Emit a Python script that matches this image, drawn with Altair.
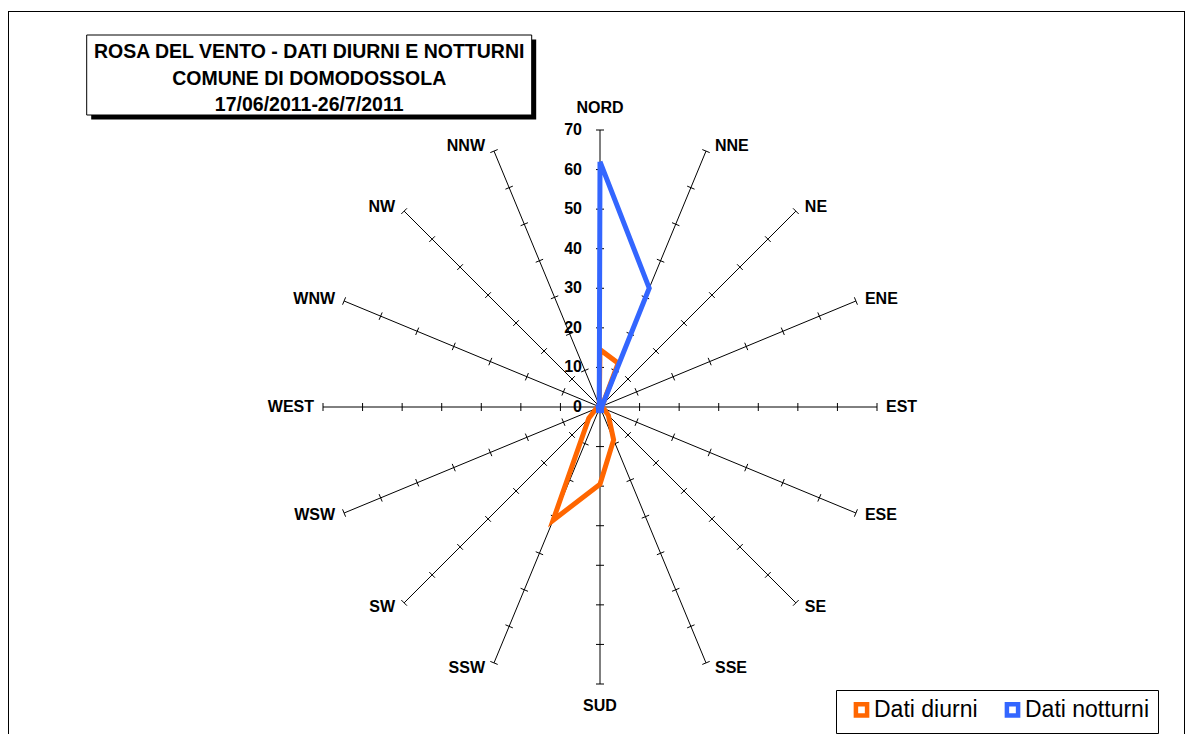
import math
import altair as alt
import pandas as pd

# ---------------- data ----------------
directions = ["NORD", "NNE", "NE", "ENE", "EST", "ESE", "SE", "SSE",
              "SUD", "SSW", "SW", "WSW", "WEST", "WNW", "NW", "NNW"]
dati_diurni = [14.5, 12, 1, 0.5, 0.5, 1, 3, 9, 19.5, 31, 4, 1, 0.5, 0.5, 0.5, 0.5]
dati_notturni = [62, 32.5, 1, 0.5, 0.5, 0.5, 0.5, 1, 1, 1, 0.5, 0.5, 0.5, 0.5, 0.5, 0.5]
axis_ticks = [0, 10, 20, 30, 40, 50, 60, 70]
series_names = ["Dati diurni", "Dati notturni"]
series_colors = ["#FF6600", "#3366FF"]
title_lines = ["ROSA DEL VENTO - DATI DIURNI E NOTTURNI",
               "COMUNE DI DOMODOSSOLA",
               "17/06/2011-26/7/2011"]

# ---------------- layout ----------------
RMAX = 70
W, H = 1177, 726
CX, CY = 592, 399          # centre of the rose in plot pixels
PX = 277 / 70              # pixels per unit
FONT = "Liberation Sans"
TICK_HALF = 4 / PX

xs = alt.Scale(domain=[-CX / PX, (W - CX) / PX], nice=False, zero=False)
ys = alt.Scale(domain=[-(H - CY) / PX, CY / PX], nice=False, zero=False)


def ang(i):
    return math.radians(i * 360 / len(directions))


# spokes
spokes = pd.DataFrame({
    "dir": directions,
    "x": 0.0, "y": 0.0,
    "x2": [RMAX * math.sin(ang(i)) for i in range(len(directions))],
    "y2": [RMAX * math.cos(ang(i)) for i in range(len(directions))],
})

# tick marks
rows = []
for i, d in enumerate(directions):
    a = ang(i)
    s, c = math.sin(a), math.cos(a)
    for r in axis_ticks[1:]:
        rows.append({"x": r * s - TICK_HALF * c, "y": r * c + TICK_HALF * s,
                     "x2": r * s + TICK_HALF * c, "y2": r * c - TICK_HALF * s})
ticks = pd.DataFrame(rows)

# series polygons (closed)
rows = []
for name, vals in zip(series_names, [dati_diurni, dati_notturni]):
    for j in range(len(directions) + 1):
        i = j % len(directions)
        a = ang(i)
        rows.append({"series": name, "order": j,
                     "x": vals[i] * math.sin(a), "y": vals[i] * math.cos(a)})
series = pd.DataFrame(rows)

# direction labels
rows = []
for i, d in enumerate(directions):
    a = ang(i)
    s, c = math.sin(a), math.cos(a)
    if abs(s) < 0.01:
        side = "center"
        lx = 0.0
        ly = RMAX * c + (22 / PX) * (1 if c > 0 else -1)
    else:
        side = "left" if s > 0 else "right"
        lx = RMAX * s + (9 / PX) * (1 if s > 0 else -1)
        ly = RMAX * c + (6 * c) / PX
    rows.append({"dir": d, "side": side, "x": lx, "y": ly})
labels = pd.DataFrame(rows)

nums = pd.DataFrame({"v": axis_ticks, "x": 0.0})
one = pd.DataFrame({"k": [0]})

X = lambda f="x": alt.X(f"{f}:Q", scale=xs, axis=None)
Y = lambda f="y": alt.Y(f"{f}:Q", scale=ys, axis=None)

# ---------------- layers ----------------
frame_left = alt.Chart(one).mark_rule(color="black", strokeWidth=1).encode(
    x=alt.value(0.5), y=alt.value(3.5), y2=alt.value(H))
frame_right = alt.Chart(one).mark_rule(color="black", strokeWidth=1).encode(
    x=alt.value(W - 0.5), y=alt.value(3.5), y2=alt.value(H))
frame_top = alt.Chart(one).mark_rule(color="black", strokeWidth=1).encode(
    x=alt.value(0), x2=alt.value(W), y=alt.value(3.5))

shadow = alt.Chart(one).mark_rect(color="black").encode(
    x=alt.value(83.2), x2=alt.value(528.2), y=alt.value(31.5), y2=alt.value(111.5))
tbox = alt.Chart(one).mark_rect(fill="white", stroke="black", strokeWidth=1).encode(
    x=alt.value(78.7), x2=alt.value(523.7), y=alt.value(27), y2=alt.value(107))
ttext = alt.Chart(one).mark_text(
    text=title_lines, font=FONT, fontWeight="bold", fontSize=19.5,
    lineHeight=26.5, align="center", baseline="alphabetic", color="black"
).encode(x=alt.value(301.2), y=alt.value(50.3))

spoke_layer = alt.Chart(spokes).mark_rule(color="black", strokeWidth=1).encode(
    x=X(), y=Y(), x2="x2:Q", y2="y2:Q")
tick_layer = alt.Chart(ticks).mark_rule(color="black", strokeWidth=1).encode(
    x=X(), y=Y(), x2="x2:Q", y2="y2:Q")

legend = alt.Legend(
    title=None, orient="none", legendX=828, legendY=682, direction="horizontal",
    symbolType="square", symbolSize=125, symbolStrokeWidth=4.5, symbolOffset=6,
    labelFont=FONT, labelFontSize=23, labelColor="black", labelOffset=1,
    columnPadding=17, padding=8, strokeColor="black", fillColor="white")
color = alt.Color("series:N", scale=alt.Scale(domain=series_names, range=series_colors),
                  legend=legend)

line_d = alt.Chart(series).transform_filter(alt.datum.series == series_names[0]).mark_line(
    strokeWidth=5, strokeJoin="miter").encode(x=X(), y=Y(), order="order:Q", color=color)
line_n = alt.Chart(series).transform_filter(alt.datum.series == series_names[1]).mark_line(
    strokeWidth=5, strokeJoin="miter").encode(x=X(), y=Y(), order="order:Q", color=color)

num_layer = alt.Chart(nums).mark_text(
    align="right", baseline="middle", dx=-18, font=FONT, fontWeight="bold",
    fontSize=16, color="black").encode(x=X(), y=Y("v"), text=alt.Text("v:Q", format="d"))

lab_layers = []
for side in ["left", "right", "center"]:
    lab_layers.append(
        alt.Chart(labels).transform_filter(alt.datum.side == side).mark_text(
            align=side, baseline="middle", font=FONT, fontWeight="bold",
            fontSize=16, color="black").encode(x=X(), y=Y(), text="dir:N"))

chart = alt.layer(
    frame_left, frame_right, frame_top, shadow, tbox, ttext,
    spoke_layer, tick_layer, line_d, line_n, num_layer, *lab_layers
).properties(
    width=W, height=H, padding=0,
    autosize=alt.AutoSizeParams(type="none"),
    background="white"
).configure_view(strokeWidth=0)

chart.save("out.html", embed_options={"renderer": "svg", "actions": False})
